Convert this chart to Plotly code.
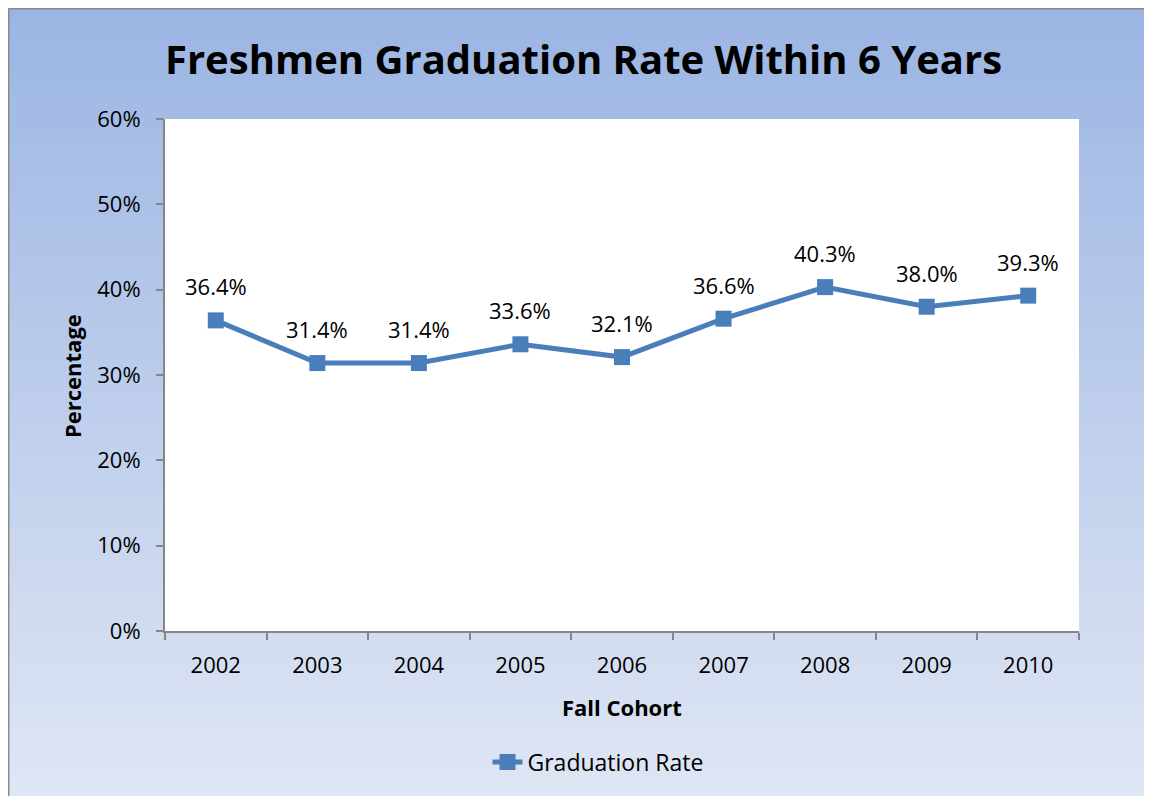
import plotly.graph_objects as go

years = ["2002", "2003", "2004", "2005", "2006", "2007", "2008", "2009", "2010"]
rates = [0.364, 0.314, 0.314, 0.336, 0.321, 0.366, 0.403, 0.380, 0.393]
labels = ["36.4%", "31.4%", "31.4%", "33.6%", "32.1%", "36.6%", "40.3%", "38.0%", "39.3%"]
y_ticks = [0, 0.1, 0.2, 0.3, 0.4, 0.5, 0.6]
y_tick_text = ["0%", "10%", "20%", "30%", "40%", "50%", "60%"]

OFF = 8  # page body margin
W, H = 1152 - OFF, 796 - OFF
L, R, T, B = 165 - OFF, 1079 - OFF, 119 - OFF, 631 - OFF
FONT = "'Open Sans', sans-serif"

def px_x(p):  # p in reference page pixels
    return (p - OFF - L) / (R - L)

def px_y(p):
    return (B - (p - OFF)) / (B - T)

LINE = "#4a7ebb"

fig = go.Figure()
fig.add_trace(go.Scatter(
    x=years, y=rates, mode="lines+markers", name="Graduation Rate",
    line=dict(color=LINE, width=5),
    marker=dict(symbol="square", size=16, color=LINE),
))

shapes = []
top_c = (155, 181, 227)
bot_c = (223, 230, 244)
N = 80
y_start, y_end = 8, 796
for i in range(N):
    t = i / (N - 1)
    c = tuple(round(top_c[k] + (bot_c[k] - top_c[k]) * t) for k in range(3))
    y0 = y_start + (y_end - y_start) * i / N
    y1 = min(y_end, y_start + (y_end - y_start) * (i + 1) / N + 1)
    shapes.append(dict(type="rect", xref="paper", yref="paper", layer="below",
                       x0=px_x(8), x1=px_x(1152), y0=px_y(y0), y1=px_y(y1),
                       fillcolor="rgb(%d,%d,%d)" % c, line=dict(width=0)))
# left and top border of the chart area
shapes.append(dict(type="line", xref="paper", yref="paper", layer="below",
                   x0=px_x(8.7), x1=px_x(8.7), y0=px_y(8.7), y1=px_y(796),
                   line=dict(color="#8a8a8a", width=1.5)))
shapes.append(dict(type="line", xref="paper", yref="paper", layer="below",
                   x0=px_x(8.7), x1=px_x(1152), y0=px_y(8.7), y1=px_y(8.7),
                   line=dict(color="#8a8a8a", width=1.5)))
shapes.append(dict(type="rect", xref="paper", yref="paper", layer="below",
                   x0=0, x1=1, y0=0, y1=1, fillcolor="white", line=dict(width=0)))

annotations = []
for i, (v, lab) in enumerate(zip(rates, labels)):
    annotations.append(dict(x=i, y=v, xref="x", yref="y", text=lab, showarrow=False,
                            yshift=34, font=dict(family=FONT, size=22, color="black")))
annotations.append(dict(x=px_x(583), y=px_y(58), xref="paper", yref="paper",
                        xanchor="center", yanchor="middle",
                        text="<b>Freshmen Graduation Rate Within 6 Years</b>", showarrow=False,
                        font=dict(family=FONT, size=40, color="black")))
annotations.append(dict(x=px_x(72), y=px_y(376), xref="paper", yref="paper",
                        xanchor="center", yanchor="middle",
                        text="<b>Percentage</b>", showarrow=False, textangle=-90,
                        font=dict(family=FONT, size=22, color="black")))
annotations.append(dict(x=px_x(622), y=px_y(707), xref="paper", yref="paper",
                        xanchor="center", yanchor="middle",
                        text="<b>Fall Cohort</b>", showarrow=False,
                        font=dict(family=FONT, size=22, color="black")))

fig.update_layout(
    width=W, height=H,
    margin=dict(l=L, r=W - R, t=T, b=H - B),
    paper_bgcolor="white",
    plot_bgcolor="rgba(0,0,0,0)",
    font=dict(family=FONT, size=22, color="black"),
    shapes=shapes,
    annotations=annotations,
    showlegend=True,
    legend=dict(x=px_x(598), xanchor="center", y=px_y(762), yanchor="middle",
                orientation="h", bgcolor="rgba(0,0,0,0)",
                font=dict(family=FONT, size=23, color="black")),
)
fig.update_xaxes(type="category", tickson="boundaries", ticks="outside", ticklen=7,
                 tickcolor="#868686", tickwidth=2, showline=True, linecolor="#868686",
                 linewidth=2, showgrid=False, zeroline=False, range=[-0.5, 8.5],
                 ticklabelstandoff=14,
                 tickfont=dict(family=FONT, size=22, color="black"))
fig.update_yaxes(range=[0, 0.6], tickvals=y_ticks, ticktext=y_tick_text, ticks="outside",
                 ticklen=7, tickcolor="#868686", tickwidth=2, showline=True,
                 linecolor="#868686", linewidth=2, showgrid=False, zeroline=False,
                 ticklabelstandoff=11,
                 tickfont=dict(family=FONT, size=22, color="black"))

fig.write_html("out.html")
